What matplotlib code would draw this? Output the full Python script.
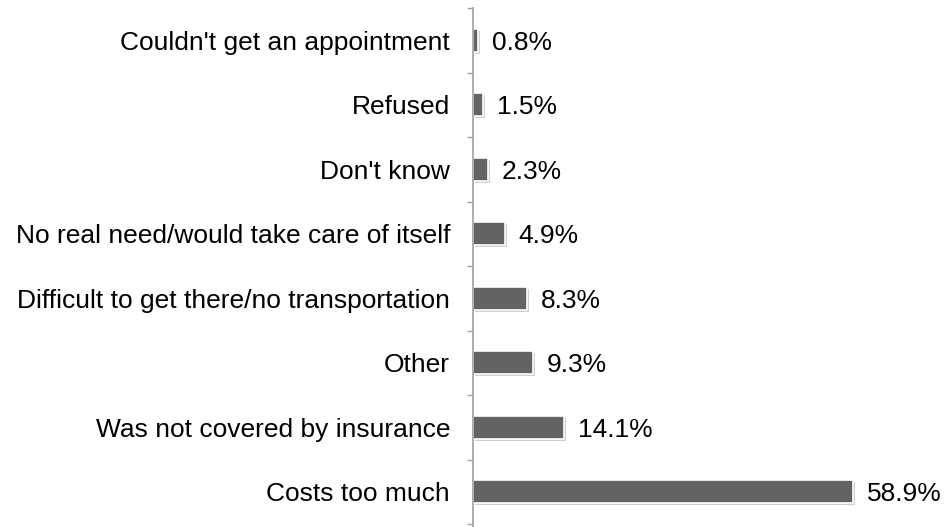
import numpy as np
import matplotlib.pyplot as plt
import matplotlib.patheffects as pe

plt.rcParams['font.family'] = ['Liberation Sans', 'DejaVu Sans']

reasons = ["Costs too much", "Was not covered by insurance", "Other",
           "Difficult to get there/no transportation",
           "No real need/would take care of itself", "Don't know", "Refused",
           "Couldn't get an appointment"]
percents = [58.9, 14.1, 9.3, 8.3, 4.9, 2.3, 1.5, 0.8]

fig = plt.figure(figsize=(9.49, 5.27), dpi=100)
ax = fig.add_axes([473 / 949, 0, 1 - 473 / 949, 1 - 8 / 527])

y = np.arange(len(reasons))
bars = ax.barh(y, percents, height=0.36, color='#636363', edgecolor='white',
               linewidth=1.2)
for b in bars:
    b.set_path_effects([pe.SimplePatchShadow(offset=(1.5, -1.5), shadow_rgbFace='#b0b0b0', alpha=0.6),
                        pe.Normal()])

for yi, v in zip(y, percents):
    ax.annotate(f"{v}%", (v, yi), xytext=(10, 0), textcoords='offset points',
                va='center_baseline', ha='left', fontsize=19)

ax.set_xlim(0, 476 / 6.45)
ax.set_ylim(-0.5 - 3 / 64.9, len(reasons) - 0.5)

ax.set_yticks(np.arange(len(reasons) + 1) - 0.5)
ax.set_yticklabels([])
ax.set_yticks(y, minor=True)
ax.set_yticklabels(reasons, minor=True, fontsize=19)
ax.tick_params(axis='y', which='major', length=4.5, color='#a0a0a0', width=1)
ax.tick_params(axis='y', which='minor', length=0, pad=16.5)
ax.set_xticks([])

for s in ['top', 'right', 'bottom']:
    ax.spines[s].set_visible(False)
ax.spines['left'].set_color('#a0a0a0')
ax.spines['left'].set_linewidth(1.2)

fig.savefig('out.png', dpi=100)
